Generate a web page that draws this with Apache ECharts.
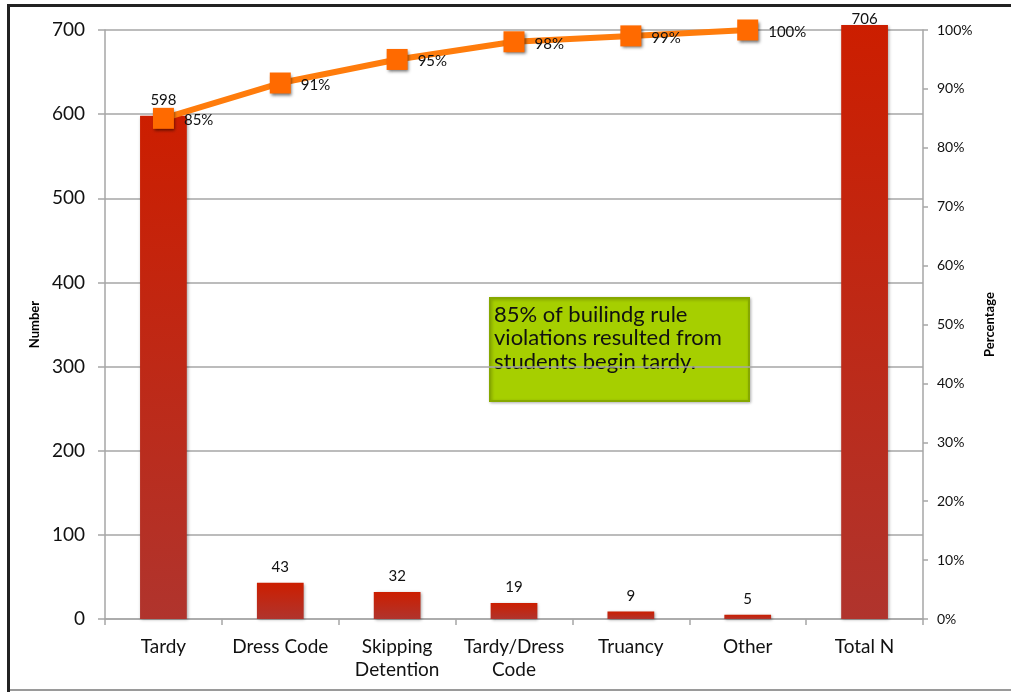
<!DOCTYPE html>
<html>
<head>
<meta charset="utf-8">
<script src="https://cdn.jsdelivr.net/npm/echarts@6/dist/echarts.min.js"></script>
<style>
  html, body { margin: 0; padding: 0; background: #ffffff; }
  #chart { width: 1011px; height: 692px; }
</style>
</head>
<body>
<div id="chart"></div>
<script>
// Building rule violations: counts per category with cumulative share
const categories = ['Tardy', 'Dress Code', 'Skipping\nDetention', 'Tardy/Dress\nCode', 'Truancy', 'Other', 'Total N'];
const counts = [598, 43, 32, 19, 9, 5, 706];
const cumulativePct = [85, 91, 95, 98, 99, 100, null];
const numberTicks = [0, 100, 200, 300, 400, 500, 600, 700];
const noteText = '85% of builindg rule\nviolations resulted from\nstudents begin tardy.';

const FONT = 'Lato, "Open Sans", sans-serif';
const GRID = { left: 105, right: 88, top: 30, bottom: 73 };

const chart = echarts.init(document.getElementById('chart'), null, { renderer: 'canvas' });

const barFill = new echarts.graphic.LinearGradient(0, 0, 0, 1, [
  { offset: 0, color: '#cc1e00' },
  { offset: 1, color: '#b0342d' }
]);

// the total bar reaches past the top gridline, so its label sits a little lower
const barData = counts.map((v, i) => (
  i === counts.length - 1 ? { value: v, label: { offset: [0, 10] } } : v
));

chart.setOption({
  animation: false,
  backgroundColor: '#ffffff',
  textStyle: { fontFamily: FONT },
  grid: GRID,
  xAxis: {
    type: 'category',
    data: categories,
    axisLine: { lineStyle: { color: '#a6a6a6', width: 1.5 } },
    axisTick: { show: true, length: 6, alignWithLabel: false, lineStyle: { color: '#a6a6a6', width: 1.5 } },
    axisLabel: { color: '#111', fontSize: 19, fontFamily: FONT, margin: 16, lineHeight: 23, interval: 0 }
  },
  yAxis: [
    {
      type: 'value',
      min: numberTicks[0],
      max: numberTicks[numberTicks.length - 1],
      interval: 100,
      name: 'Number',
      nameLocation: 'middle',
      nameRotate: 90,
      nameGap: 58,
      nameTextStyle: { fontSize: 13, fontWeight: 'bold', color: '#000', fontFamily: FONT },
      axisLine: { show: true, lineStyle: { color: '#a6a6a6', width: 1.5 } },
      axisTick: { show: true, length: 7, lineStyle: { color: '#a6a6a6', width: 1.5 } },
      axisLabel: { color: '#111', fontSize: 19, fontFamily: FONT, margin: 20 },
      splitLine: { show: true, lineStyle: { color: '#a6a6a6', width: 1.5 } }
    },
    {
      type: 'value',
      min: 0,
      max: 100,
      interval: 10,
      position: 'right',
      name: 'Percentage',
      nameLocation: 'middle',
      nameRotate: 90,
      nameGap: 58,
      nameTextStyle: { fontSize: 13, fontWeight: 'bold', color: '#000', fontFamily: FONT },
      axisLine: { show: true, lineStyle: { color: '#a6a6a6', width: 1.5 } },
      axisTick: { show: true, length: 5, lineStyle: { color: '#a6a6a6', width: 1.5 } },
      axisLabel: { color: '#111', fontSize: 14, fontFamily: FONT, margin: 14, formatter: '{value}%' },
      splitLine: { show: false }
    }
  ],
  series: [
    {
      type: 'bar',
      data: barData,
      yAxisIndex: 0,
      barWidth: '40%',
      clip: false,
      itemStyle: {
        color: barFill,
        shadowColor: 'rgba(0,0,0,0.35)',
        shadowBlur: 3,
        shadowOffsetX: 1,
        shadowOffsetY: 1
      },
      label: {
        show: true,
        position: 'top',
        distance: 8,
        color: '#111',
        fontSize: 15,
        fontFamily: FONT
      },
      z: 2
    },
    {
      type: 'line',
      data: cumulativePct,
      yAxisIndex: 1,
      symbol: 'rect',
      symbolSize: 21,
      lineStyle: { color: '#ff7c0c', width: 6 },
      itemStyle: {
        color: '#ff6a00',
        shadowColor: 'rgba(0,0,0,0.55)',
        shadowBlur: 3,
        shadowOffsetX: 1.5,
        shadowOffsetY: 2
      },
      label: {
        show: true,
        position: 'right',
        distance: 10,
        offset: [0, 2],
        formatter: p => p.value + '%',
        color: '#111',
        fontSize: 15,
        fontFamily: FONT
      },
      z: 5
    }
  ],
  graphic: [
    // outer frame edges
    { type: 'rect', left: 7, top: 4, shape: { width: 1011, height: 3 }, style: { fill: '#222' }, silent: true },
    { type: 'rect', left: 7, top: 4, shape: { width: 3, height: 688 }, style: { fill: '#222' }, silent: true },
    { type: 'rect', left: 10, top: 689, shape: { width: 1001, height: 2 }, style: { fill: '#9a9a9a' }, silent: true },
    // note box
    {
      type: 'group',
      left: 489,
      top: 297,
      z: 10,
      children: [
        {
          type: 'rect',
          shape: { width: 259, height: 103 },
          style: {
            fill: '#a6cf00',
            stroke: '#86a800',
            lineWidth: 2,
            shadowColor: 'rgba(0,0,0,0.25)',
            shadowBlur: 3,
            shadowOffsetX: 1,
            shadowOffsetY: 1
          }
        },
        {
          type: 'text',
          left: 4,
          top: 5,
          style: {
            text: noteText,
            fill: '#111',
            font: '22px ' + FONT,
            lineHeight: 23.5
          }
        }
      ]
    }
  ]
});
</script>
</body>
</html>
